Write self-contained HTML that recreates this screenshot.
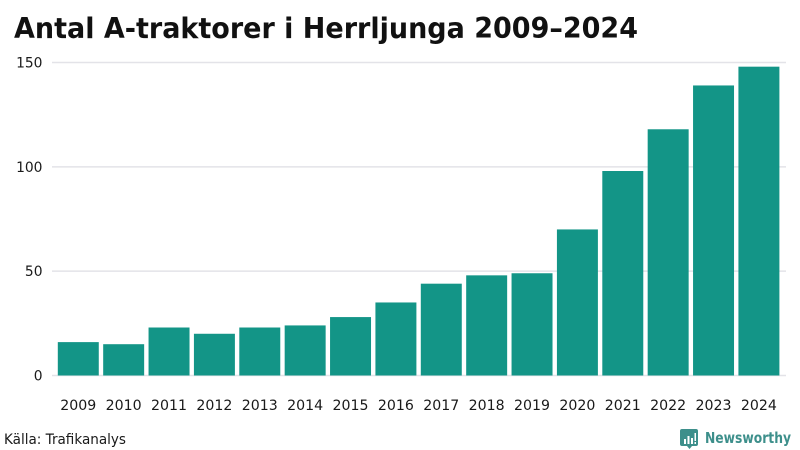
<!DOCTYPE html>
<html lang="sv">
<head>
<meta charset="utf-8">
<title>Antal A-traktorer i Herrljunga 2009–2024</title>
<style>
html,body{margin:0;padding:0;background:#fff;width:800px;height:450px;overflow:hidden}
svg{display:block}
text{font-family:"DejaVu Sans","Liberation Sans",sans-serif;fill:#1a1a1a}
</style>
</head>
<body>
<svg id="chart" width="800" height="450" viewBox="0 0 800 450" xmlns="http://www.w3.org/2000/svg">
<text x="14" y="38" font-size="28.500" font-weight="700" textLength="624" lengthAdjust="spacingAndGlyphs" style="fill:#111">Antal A-traktorer i Herrljunga 2009–2024</text>
<g id="grid"></g>
<g id="bars"></g>
<g id="ylabels"></g>
<g id="xlabels"></g>
<text x="4" y="444" font-size="14.500" textLength="122" lengthAdjust="spacingAndGlyphs">Källa: Trafikanalys</text>
<g>
<path d="M682 429h14a2 2 0 0 1 2 2v13a2 2 0 0 1-2 2h-4l-2.500 3-2.500-3h-5a2 2 0 0 1-2-2v-13a2 2 0 0 1 2-2z" fill="#3d8f8b"/>
<path d="M684 444v-5h2v5zM687.500 444v-8h2v8zM691 444v-6h2v6zM694.500 441v-8h1.500v8zM694.500 444v-2h1.500v2z" fill="#fff"/>
<text x="705" y="443" font-size="15.500" font-weight="700" textLength="86" lengthAdjust="spacingAndGlyphs" style="fill:#3d8f8b">Newsworthy</text>
</g>
</svg>
<script>
const categories = ["2009","2010","2011","2012","2013","2014","2015","2016","2017","2018","2019","2020","2021","2022","2023","2024"];
const seriesValues = [16,15,23,20,23,24,28,35,44,48,49,70,98,118,139,148];
const yTickLabels = [0,50,100,150];

const NS = "http://www.w3.org/2000/svg";
const yZero = 375.5, yTop = 62.5, yMax = 150;
const xStart = 55.6, xEnd = 781.6;
const gap = 4.4;

function yScale(v){ return yZero - (v / yMax) * (yZero - yTop); }
function bandWidth(){ return (xEnd - xStart) / categories.length; }
function xScale(i){ return xStart + i * bandWidth(); }

const gridG = document.getElementById("grid");
const barsG = document.getElementById("bars");
const yG = document.getElementById("ylabels");
const xG = document.getElementById("xlabels");

yTickLabels.forEach(function(t){
  const line = document.createElementNS(NS, "line");
  line.setAttribute("x1", 52);
  line.setAttribute("x2", 786);
  line.setAttribute("y1", yScale(t));
  line.setAttribute("y2", yScale(t));
  line.setAttribute("stroke", "#e3e3e8");
  line.setAttribute("stroke-width", 1.5);
  
  
  gridG.appendChild(line);

  const label = document.createElementNS(NS, "text");
  label.setAttribute("x", 42.5);
  label.setAttribute("y", yScale(t) + 5);
  label.setAttribute("text-anchor", "end");
  label.setAttribute("font-size", 14.5);
  label.setAttribute("textLength", String(t).length * 8.8);
  label.setAttribute("lengthAdjust", "spacingAndGlyphs");
  label.textContent = t;
  
  
  yG.appendChild(label);
});

seriesValues.forEach(function(v, i){
  const rect = document.createElementNS(NS, "rect");
  rect.setAttribute("x", xScale(i) + gap / 2);
  rect.setAttribute("y", yScale(v));
  rect.setAttribute("width", bandWidth() - gap);
  rect.setAttribute("height", yZero - yScale(v));
  rect.setAttribute("fill", "#139587");
  
  
  barsG.appendChild(rect);
});

categories.forEach(function(c, i){
  const label = document.createElementNS(NS, "text");
  label.setAttribute("x", xScale(i) + bandWidth() / 2);
  label.setAttribute("y", 410);
  label.setAttribute("text-anchor", "middle");
  label.setAttribute("font-size", 14.5);
  label.setAttribute("textLength", 36);
  label.setAttribute("lengthAdjust", "spacingAndGlyphs");
  label.textContent = c;
  
  
  xG.appendChild(label);
});
</script>
</body>
</html>
